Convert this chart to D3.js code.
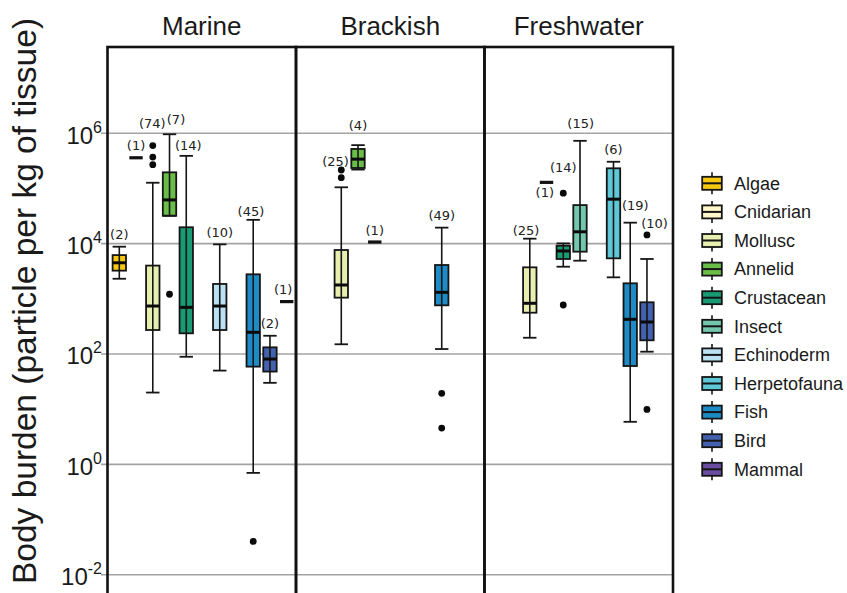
<!DOCTYPE html>
<html><head><meta charset="utf-8">
<script src="https://cdn.jsdelivr.net/npm/d3@7"></script>
<style>body{margin:0;background:#fff;overflow:hidden}</style>
</head><body>
<svg id="chart" width="847" height="593"></svg>
<script>
// ---------------- DATA ----------------
const categories = ["Algae","Cnidarian","Mollusc","Annelid","Crustacean","Insect","Echinoderm","Herpetofauna","Fish","Bird","Mammal"];
const categoryColors = ["#F7C911","#FFF6CA","#E8EEB0","#6ABD46","#189A73","#72C7AD","#BAE2F3","#5EC7D8","#1D8BC6","#4461B0","#6A4CA0"];
const panelNames = ["Marine","Brackish","Freshwater"];

const marineStats = [
  {cat:"Algae",      n:2,  lo:2310, q1:3240, med:4500, q3:6200,  hi:8800,   out:[]},
  {cat:"Cnidarian",  n:1,  med:3.6e5},
  {cat:"Mollusc",    n:74, lo:20,   q1:272,  med:740,  q3:4000,  hi:1.27e5, out:[2.7e5,3.7e5,6.0e5]},
  {cat:"Annelid",    n:7,  lo:3.2e4,q1:3.2e4,med:6.2e4,q3:1.96e5,hi:9.6e5,  out:[1210]},
  {cat:"Crustacean", n:14, lo:89,   q1:237,  med:700,  q3:1.98e4,hi:3.9e5,  out:[]},
  {cat:"Echinoderm", n:10, lo:50,   q1:272,  med:740,  q3:1860,  hi:9700,   out:[]},
  {cat:"Fish",       n:45, lo:0.7,  q1:59,   med:247,  q3:2780,  hi:2.7e4,  out:[0.04]},
  {cat:"Bird",       n:2,  lo:30,   q1:48,   med:81,   q3:132,   hi:214,    out:[]},
  {cat:"Mammal",     n:1,  med:890}
];
const brackishStats = [
  {cat:"Mollusc",    n:25, lo:150,  q1:1050, med:1780, q3:7670,  hi:1.05e5, out:[1.57e5,2.16e5]},
  {cat:"Annelid",    n:4,  lo:2.2e5,q1:2.35e5,med:3.4e5,q3:5.2e5,hi:6.1e5,  out:[]},
  {cat:"Crustacean", n:1,  med:1.07e4},
  {cat:"Fish",       n:49, lo:123,  q1:762,  med:1310, q3:4100,  hi:1.95e4, out:[4.55,19.4]}
];
const freshwaterStats = [
  {cat:"Mollusc",     n:25, lo:197,  q1:560,  med:830,   q3:3720,  hi:1.23e4, out:[]},
  {cat:"Annelid",     n:1,  med:1.29e5},
  {cat:"Crustacean",  n:14, lo:3820, q1:5270, med:7360,  q3:9180,  hi:1.01e4, out:[772,8.2e4]},
  {cat:"Insect",      n:15, lo:4910, q1:7150, med:1.64e4,q3:5.0e4, hi:7.3e5,  out:[]},
  {cat:"Herpetofauna",n:6,  lo:2450, q1:5420, med:6.4e4, q3:2.32e5,hi:3.05e5, out:[]},
  {cat:"Fish",        n:19, lo:5.9,  q1:60.5, med:425,   q3:1910,  hi:2.4e4,  out:[]},
  {cat:"Bird",        n:10, lo:110,  q1:177,  med:380,   q3:865,   hi:5270,   out:[9.9,1.44e4]}
];
const panelStats = [marineStats, brackishStats, freshwaterStats];
const yTickValues = [1e-2, 1, 1e2, 1e4, 1e6];
const yTickExponents = ["-2","0","2","4","6"];
const yAxisTitle = "Body burden (particle per kg of tissue)";

// ---------------- LAYOUT ----------------
const svg = d3.select("#chart");
const plotTop = 47, plotLeft = 107.5, panelW = 188.5;
const y = d3.scaleLog().domain([Math.pow(10,-2.332), Math.pow(10,7.564)]).range([593, plotTop]);
const panelX = d3.scaleBand().domain(panelNames).range([plotLeft, plotLeft + 3*panelW]).padding(0);
const boxW = 13.4;
// label nudges [dx, dy] in px (layout only)
const labelNudge = {
  "Marine|Mollusc":[-0.5,-10.5], "Marine|Annelid":[6.5,-2.5], "Marine|Fish":[-2.3,4], "Marine|Crustacean":[2,1.5],
  "Marine|Mammal":[-3.5,0],
  "Brackish|Mollusc":[-5.7,3], "Brackish|Annelid":[0,-7.6],
  "Freshwater|Mollusc":[-3.7,4], "Freshwater|Annelid":[-1.7,22.4], "Freshwater|Crustacean":[0,-14],
  "Freshwater|Insect":[0.7,-5.4], "Freshwater|Fish":[5,-5], "Freshwater|Bird":[7.6,0]
};
const colorOf = d3.scaleOrdinal().domain(categories).range(categoryColors);

// gridlines
svg.append("g").selectAll("line").data(yTickValues).join("line")
  .attr("x1", 101).attr("x2", plotLeft + 3*panelW)
  .attr("y1", d => y(d)).attr("y2", d => y(d))
  .attr("stroke", "#a3a3a3").attr("stroke-width", 1.6);

// y tick labels
const tl = svg.append("g").selectAll("text").data(yTickValues).join("text")
  .attr("x", 102).attr("y", d => y(d) + 10.5)
  .attr("text-anchor", "end")
  .attr("font-family", "Liberation Sans, Arial, sans-serif")
  .attr("font-size", 24).attr("fill", "#1a1a1a");
tl.append("tspan").text("10");
tl.append("tspan").attr("dy", -11).attr("font-size", 16).text((d,i) => yTickExponents[i]);

// y axis title
svg.append("text")
  .attr("transform", `translate(36,${301}) rotate(-90)`)
  .attr("text-anchor", "middle")
  .attr("font-family", "Liberation Sans, Arial, sans-serif")
  .attr("font-size", 33.5).attr("fill", "#1a1a1a")
  .text(yAxisTitle);

// panel borders
svg.append("g").selectAll("rect").data(panelNames).join("rect")
  .attr("x", d => panelX(d)).attr("y", plotTop)
  .attr("width", panelX.bandwidth()).attr("height", 600)
  .attr("fill", "none").attr("stroke", "#111").attr("stroke-width", 2.6);

// panels
panelNames.forEach((pn, pi) => {
  const x0 = panelX(pn);
  const x = d3.scalePoint().domain(categories).range([x0 + 11.8, x0 + 179.2]);
  const g = svg.append("g");
  const stats = panelStats[pi];

  stats.forEach(s => {
    const cx = x(s.cat);
    const gg = g.append("g");
    let topPx;
    if (s.n === 1) {
      gg.append("line").attr("x1", cx - boxW/2).attr("x2", cx + boxW/2)
        .attr("y1", y(s.med)).attr("y2", y(s.med))
        .attr("stroke", "#111").attr("stroke-width", 3.2);
      topPx = y(s.med);
    } else {
      gg.append("rect").attr("x", cx - boxW/2).attr("width", boxW)
        .attr("y", y(s.q3)).attr("height", y(s.q1) - y(s.q3))
        .attr("fill", colorOf(s.cat)).attr("stroke", "#151515").attr("stroke-width", 1.8);
      gg.append("line").attr("x1", cx).attr("x2", cx)
        .attr("y1", y(s.lo)).attr("y2", y(s.hi))
        .attr("stroke", "#151515").attr("stroke-width", 1.6);
      [s.lo, s.hi].forEach(v => gg.append("line")
        .attr("x1", cx - boxW/2).attr("x2", cx + boxW/2)
        .attr("y1", y(v)).attr("y2", y(v))
        .attr("stroke", "#151515").attr("stroke-width", 1.8));
      gg.append("line").attr("x1", cx - boxW/2).attr("x2", cx + boxW/2)
        .attr("y1", y(s.med)).attr("y2", y(s.med))
        .attr("stroke", "#0a0a0a").attr("stroke-width", 3);
      gg.selectAll("circle").data(s.out).join("circle")
        .attr("cx", cx).attr("cy", d => y(d)).attr("r", 3.4).attr("fill", "#0a0a0a");
      topPx = Math.min(y(s.hi), ...s.out.map(v => y(v)));
    }
    const nd = labelNudge[pn + "|" + s.cat] || [0,0];
    gg.append("text")
      .attr("x", cx + nd[0]).attr("y", topPx - 12 + nd[1] + 4.6)
      .attr("text-anchor", "middle")
      .attr("font-family", "DejaVu Sans, Verdana, sans-serif")
      .attr("font-size", 13).attr("fill", "#222")
      .text(`(${s.n})`);
  });

  // title
  svg.append("text").attr("x", x0 + panelW/2).attr("y", 35)
    .attr("text-anchor", "middle")
    .attr("font-family", "Liberation Sans, Arial, sans-serif")
    .attr("font-size", 26).attr("fill", "#1a1a1a").text(pn);
});

// legend
const lg = svg.append("g").selectAll("g").data(categories).join("g")
  .attr("transform", (d,i) => `translate(712,${183.3 + i*28.6})`);
lg.append("line").attr("x1",0).attr("x2",0).attr("y1",-11).attr("y2",11)
  .attr("stroke","#151515").attr("stroke-width",1.6);
lg.append("rect").attr("x",-9.8).attr("y",-6.5).attr("width",19.6).attr("height",13)
  .attr("fill", d => colorOf(d)).attr("stroke","#151515").attr("stroke-width",1.8);
lg.append("line").attr("x1",-9.8).attr("x2",9.8).attr("y1",0).attr("y2",0)
  .attr("stroke","#151515").attr("stroke-width",2);
lg.append("text").attr("x", 22).attr("y", 0).attr("dy","0.35em")
  .attr("font-family", "Liberation Sans, Arial, sans-serif")
  .attr("font-size", 18).attr("fill", "#1a1a1a").text(d => d);
</script>
</body></html>
